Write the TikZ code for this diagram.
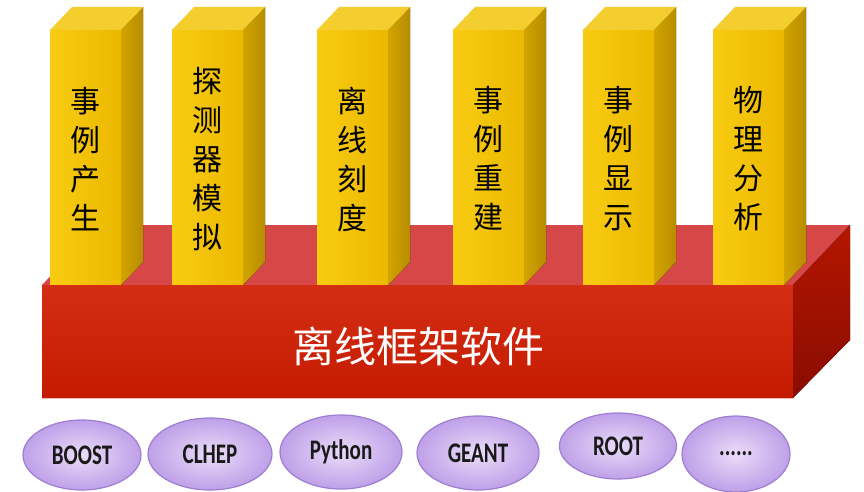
\documentclass[tikz,border=0pt]{standalone}
\usepackage{fontspec}
\setmainfont{Carlito}
\newfontfamily\cjk{Noto Sans CJK SC}
\usetikzlibrary{shapes.geometric}
\definecolor{pfrontL}{HTML}{F8CC12}
\definecolor{pfrontR}{HTML}{EBB800}
\definecolor{ptop}{HTML}{F3CE2E}
\definecolor{psideL}{HTML}{D2A400}
\definecolor{psideR}{HTML}{B88C00}
\definecolor{sfront}{HTML}{CF1C00}
\definecolor{stop}{HTML}{D64848}
\definecolor{sside1}{HTML}{B41600}
\definecolor{sside2}{HTML}{8A0C00}
\definecolor{libin}{HTML}{EADCF9}
\definecolor{libout}{HTML}{BFA0E8}
\definecolor{libedge}{HTML}{9E7ED2}
\tikzset{
  pillartext/.style={align=center, text=black, font=\cjk\fontsize{30}{39}\selectfont, inner sep=0pt},
  slabtext/.style={text=white, font=\cjk\fontsize{42}{42}\selectfont, inner sep=0pt},
  lib/.style={ellipse, draw=libedge, line width=1.2pt, inner color=libin, outer color=libout,
    font=\bfseries\fontsize{21}{21}\selectfont, text=black!90, inner sep=0pt},
}
\newcommand\drawpillar[3]{%
  \fill[left color=pfrontL, right color=pfrontR] (#1,30) rectangle (#1+71,285);
  \fill[left color=psideL, right color=psideR] (#1+71,30) -- (#1+93,7) -- (#1+93,262) -- (#1+71,285) -- cycle;
  \fill[ptop] (#1,30) -- (#1+22,7) -- (#1+93,7) -- (#1+71,30) -- cycle;
  \node[pillartext] (#2) at (#1+35.5,159) {#3};
}
\begin{document}
\begin{tikzpicture}[x=1pt,y=-1pt]
\useasboundingbox[fill=white] (0,0) rectangle (864,492);
% slab top face
\fill[stop] (42,285) -- (793,285) -- (850,225) -- (99,225) -- cycle;
% pillars
\drawpillar{50}{p1}{事\\例\\产\\生}
\drawpillar{172}{p2}{探\\测\\器\\模\\拟}
\drawpillar{317}{p3}{离\\线\\刻\\度}
\drawpillar{453}{p4}{事\\例\\重\\建}
\drawpillar{583}{p5}{事\\例\\显\\示}
\drawpillar{713}{p6}{物\\理\\分\\析}
% slab front and side
\fill[top color=sfront!92!white, bottom color=sfront!95!black] (42,285) rectangle (793,398);
\fill[top color=sside1, bottom color=sside2] (793,285) -- (850,225) -- (850,340) -- (793,398) -- cycle;
\draw[white!70!sfront, line width=1pt] (42,398.5) -- (793,398.5);
\node[slabtext] (slab) at (418,346) {离线框架软件};
% libraries
\node[lib, minimum width=118pt, minimum height=70pt] (boost) at (82,455) {\scalebox{1}[1.35]{BOOST}};
\node[lib, minimum width=124pt, minimum height=72pt] (clhep) at (210,454) {\scalebox{1}[1.35]{CLHEP}};
\node[lib, minimum width=122pt, minimum height=74pt] (python) at (341,452) {\scalebox{1}[1.35]{Python}};
\node[lib, minimum width=122pt, minimum height=74pt] (geant) at (478,453) {\scalebox{1}[1.35]{GEANT}};
\node[lib, minimum width=117pt, minimum height=66pt] (root) at (618,446) {\scalebox{1}[1.35]{ROOT}};
\node[lib, minimum width=108pt, minimum height=76pt] (more) at (736,454) {\scalebox{1}[1.35]{......}};
\end{tikzpicture}
\end{document}
